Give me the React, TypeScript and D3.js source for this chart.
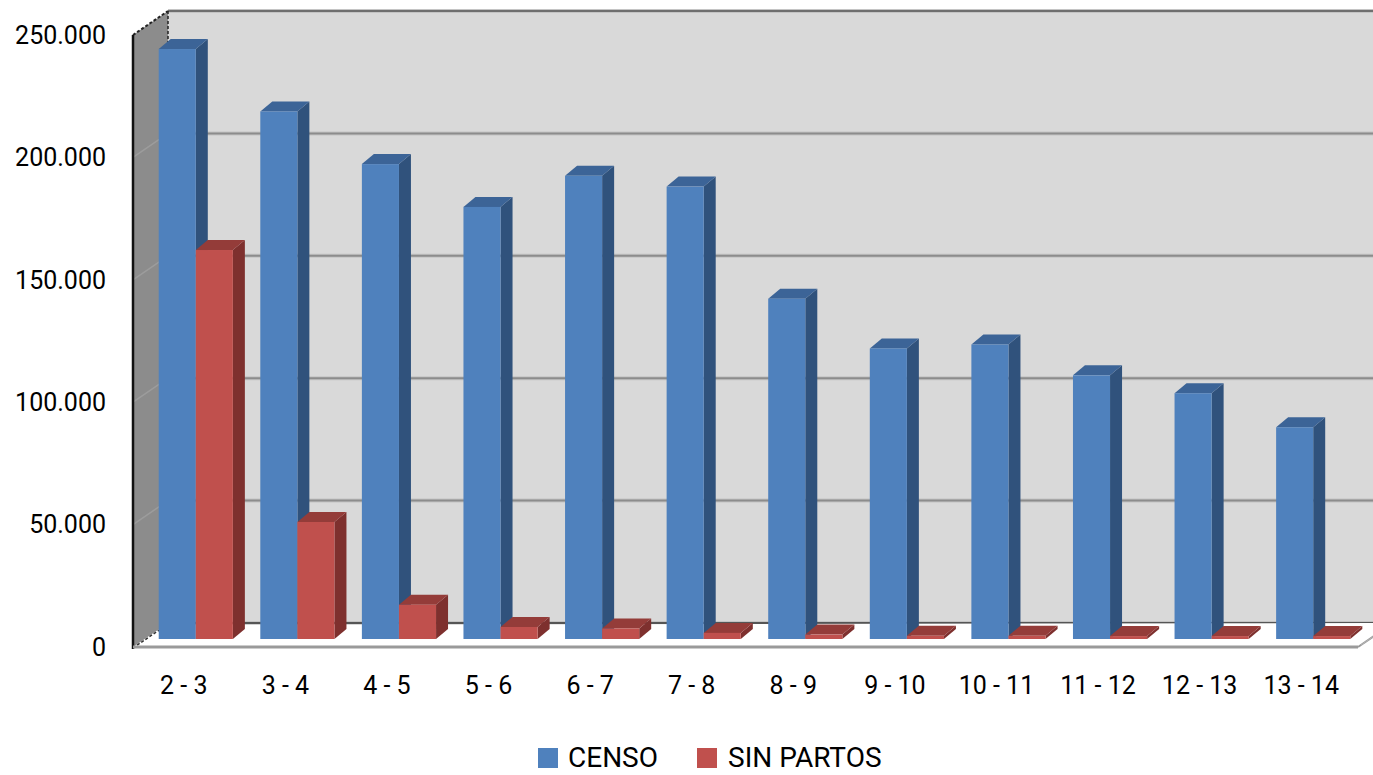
import React from 'react';
import * as d3 from 'd3';

const categories = ['2 - 3', '3 - 4', '4 - 5', '5 - 6', '6 - 7', '7 - 8', '8 - 9', '9 - 10', '10 - 11', '11 - 12', '12 - 13', '13 - 14'];
const censo = [241000, 215500, 194000, 176500, 189200, 184800, 139000, 118700, 120300, 107700, 100400, 86500];
const sinPartos = [158900, 47800, 14000, 4900, 4300, 2500, 1800, 1300, 1300, 1200, 1200, 1200];
const yTicks = [0, 50000, 100000, 150000, 200000, 250000];

const series = [
  { name: 'CENSO', values: censo, front: '#4f81bd', side: '#30527c', top: '#3c6497' },
  { name: 'SIN PARTOS', values: sinPartos, front: '#c0504d', side: '#7e302e', top: '#943c39' },
];

const W = 1373;
const H = 775;
const FONT = 'Roboto, "Liberation Sans", sans-serif';

// front plane of the 3D box, and how far back the walls go
const X0 = 133;
const X1 = 1358;
const DX = 35;
const DY = -24;
// bars sit a bit behind the front edge and have their own depth
const BAR_SHIFT_X = 12;
const BAR_SHIFT_Y = -8;
const BAR_DX = 12;
const BAR_DY = -10;

const fmt = d3.formatLocale({ decimal: ',', thousands: '.', grouping: [3], currency: ['', ''] }).format(',');

export default function App() {
  const y = d3.scaleLinear().domain([0, 250000]).range([647, 35]);
  const x = d3.scaleBand<string>().domain(categories).range([X0, 1352]).paddingInner(0.27).paddingOuter(0.135);
  const bw = x.bandwidth() / 2;
  const yBase = y(0);
  const yTop = y(250000);

  const pts = (p: [number, number][]) => p.map(d => d.join(',')).join(' ');

  const bars: React.ReactNode[] = [];
  categories.forEach((c, i) => {
    series.forEach((s, j) => {
      const x0 = x(c)! + BAR_SHIFT_X + j * bw;
      const x1 = x0 + bw;
      const yb = yBase + BAR_SHIFT_Y;
      const yt = y(s.values[i]) + BAR_SHIFT_Y;
      bars.push(
        <g key={`${c}-${s.name}`}>
          <polygon points={pts([[x1, yb], [x1, yt], [x1 + BAR_DX, yt + BAR_DY], [x1 + BAR_DX, yb + BAR_DY]])} fill={s.side} />
          <polygon points={pts([[x0, yt], [x1, yt], [x1 + BAR_DX, yt + BAR_DY], [x0 + BAR_DX, yt + BAR_DY]])} fill={s.top} />
          <rect x={x0} y={yt} width={bw} height={yb - yt} fill={s.front} />
        </g>
      );
    });
  });

  return (
    <div style={{ position: 'absolute', left: 0, top: 0, width: W, height: H, overflow: 'hidden', background: '#fff' }}>
      <svg width={W} height={H} style={{ display: 'block' }} fontFamily={FONT}>
        {/* back wall */}
        <rect x={X0 + DX} y={yTop + DY} width={X1 - X0} height={yBase - yTop} fill="#d9d9d9" />
        {yTicks.map(t => (
          <g key={`g${t}`}>
            <line x1={X0 + DX} x2={X1 + DX} y1={y(t) + DY} y2={y(t) + DY} stroke="#c4c4c4" strokeWidth={4} />
            <line x1={X0 + DX} x2={X1 + DX} y1={y(t) + DY} y2={y(t) + DY} stroke={t === 0 ? '#555' : t === 250000 ? '#6f6f6f' : '#8c8c8c'} strokeWidth={2} />
          </g>
        ))}
        {/* floor */}
        <polygon points={pts([[X0, yBase], [X1, yBase], [X1 + DX, yBase + DY], [X0 + DX, yBase + DY + 2]])} fill="#fff" />
        {/* left wall */}
        <polygon points={pts([[X0, yBase], [X0, yTop], [X0 + DX, yTop + DY], [X0 + DX, yBase + DY]])} fill="#8c8c8c" />
        {yTicks.slice(1, -1).map(t => (
          <line key={`lw${t}`} x1={X0} x2={X0 + DX} y1={y(t)} y2={y(t) + DY} stroke="#9c9c9c" strokeWidth={1.5} />
        ))}
        <line x1={X0 + DX} x2={X0 + DX} y1={yTop + DY} y2={yBase + DY} stroke="#222" strokeWidth={1.5} strokeDasharray="3,2" />
        <line x1={X0} x2={X0 + DX} y1={yTop} y2={yTop + DY} stroke="#222" strokeWidth={2} strokeDasharray="3,2" />
        <line x1={X0} x2={X0 + DX} y1={yBase + 1} y2={yBase + DY + 1} stroke="#333" strokeWidth={1.5} strokeDasharray="3,2" />
        <line x1={X0} x2={X0} y1={yTop} y2={yBase + 2} stroke="#111" strokeWidth={2.5} />
        {/* floor front edge */}
        <line x1={X0} x2={X1} y1={yBase} y2={yBase} stroke="#9a9a9a" strokeWidth={3} />
        <line x1={X1} x2={X1 + DX} y1={yBase} y2={yBase + DY} stroke="#9a9a9a" strokeWidth={2} />
        <line x1={X1 + 3} x2={X1 + DX + 3} y1={yBase - 2} y2={yBase + DY - 2} stroke="#b5b5b5" strokeWidth={1} />

        {bars}

        {/* y axis labels */}
        {yTicks.map(t => (
          <text key={`yl${t}`} x={106} y={y(t)} dy="0.35em" textAnchor="end" fontSize={25} fill="#000">
            {fmt(t)}
          </text>
        ))}
        {/* category labels */}
        {categories.map(c => (
          <text key={`xl${c}`} x={x(c)! + x.bandwidth() / 2} y={685} dy="0.35em" textAnchor="middle" fontSize={25} fill="#000">
            {c}
          </text>
        ))}

        {/* legend */}
        <rect x={538} y={748} width={20} height={20} fill={series[0].front} />
        <text x={568} y={767} fontSize={28} fill="#000">{series[0].name}</text>
        <rect x={697} y={748} width={20} height={20} fill={series[1].front} />
        <text x={728} y={767} fontSize={28} fill="#000">{series[1].name}</text>
      </svg>
    </div>
  );
}
